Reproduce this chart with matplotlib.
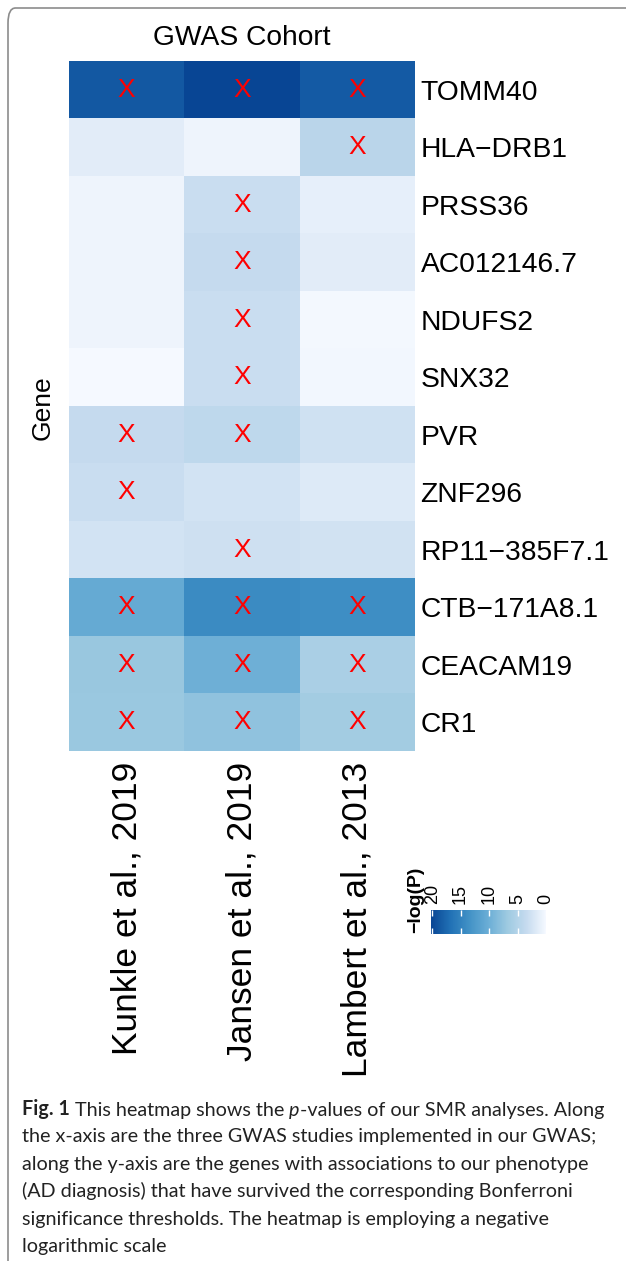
import numpy as np
import matplotlib
matplotlib.use("Agg")
import matplotlib.pyplot as plt
from matplotlib.colors import LinearSegmentedColormap
from matplotlib.patches import FancyBboxPatch

# data: -log(P) per gene (rows) and GWAS cohort (columns)
genes = ["TOMM40", "HLA\u2212DRB1", "PRSS36", "AC012146.7", "NDUFS2", "SNX32",
         "PVR", "ZNF296", "RP11\u2212385F7.1", "CTB\u2212171A8.1", "CEACAM19", "CR1"]
cohorts = ["Kunkle et al., 2019", "Jansen et al., 2019", "Lambert et al., 2013"]

kunkle = [18.7, 1.4, 0.5, 0.5, 0.5, 0.0, 3.4, 3.1, 2.5, 10.5, 7.1, 7.0]
jansen = [20.2, 0.5, 3.1, 3.4, 3.1, 3.1, 4.0, 2.5, 2.8, 14.1, 9.9, 7.6]
lambert = [18.5, 4.4, 1.1, 1.4, 0.1, 0.2, 2.7, 1.7, 2.6, 13.8, 5.7, 6.3]

# significant after Bonferroni (marked with X)
sig_kunkle = [1, 0, 0, 0, 0, 0, 1, 1, 0, 1, 1, 1]
sig_jansen = [1, 0, 1, 1, 1, 1, 1, 0, 1, 1, 1, 1]
sig_lambert = [1, 1, 0, 0, 0, 0, 0, 0, 0, 1, 1, 1]

cbar_ticks = [0, 5, 10, 15, 20]

caption_first = [("Fig. 1", "normal", "bold"),
                 (" This heatmap shows the ", "normal", "normal"),
                 ("p", "italic", "normal"),
                 ("-values of our SMR analyses. Along", "normal", "normal")]
caption_rest = ["the x-axis are the three GWAS studies implemented in our GWAS;",
                "along the y-axis are the genes with associations to our phenotype",
                "(AD diagnosis) that have survived the corresponding Bonferroni",
                "significance thresholds. The heatmap is employing a negative",
                "logarithmic scale"]

vals = np.column_stack([kunkle, jansen, lambert])
sig = np.column_stack([sig_kunkle, sig_jansen, sig_lambert])

cmap = LinearSegmentedColormap.from_list(
    "blues", ["#F5F9FF", "#C6DBEF", "#9ECAE1", "#6BAED6", "#4292C6", "#2171B5", "#084594"])

W, H = 626, 1261
fig = plt.figure(figsize=(W / 100, H / 100), dpi=100)
plt.rcParams["font.family"] = ["Liberation Sans", "DejaVu Sans"]

# frame around the figure panel
frame = FancyBboxPatch((8 / W, -0.05), 1.2, 1 - 8 / H + 0.05,
                       boxstyle="round,pad=0,rounding_size=0.012",
                       transform=fig.transFigure, fill=False,
                       edgecolor="#8c8c8c", lw=1.2)
fig.patches.append(frame)

ax = fig.add_axes([69 / W, 1 - 751 / H, 346 / W, 690 / H])
im = ax.imshow(vals, cmap=cmap, vmin=vals.min(), vmax=vals.max(),
               aspect="auto", interpolation="nearest")
for i in range(len(genes)):
    for j in range(len(cohorts)):
        if sig[i, j]:
            ax.text(j, i, "X", color="red", ha="center", va="center", fontsize=19)

ax.set_xticks(range(len(cohorts)))
ax.set_xticklabels(cohorts, rotation=90, fontsize=25.5, va="top")
ax.set_yticks(range(len(genes)))
ax.set_yticklabels(genes, fontsize=20.3)
ax.yaxis.tick_right()
ax.tick_params(axis="both", length=0)
ax.tick_params(axis="x", pad=8)
ax.tick_params(axis="y", pad=4)
for s in ax.spines.values():
    s.set_visible(False)

fig.text(242 / W, 1 - 38 / H, "GWAS Cohort", ha="center", va="center", fontsize=20.3)
fig.text(43 / W, 1 - 408 / H, "Gene", ha="center", va="center", rotation=90, fontsize=19)

# colour bar (reversed, horizontal)
cax = fig.add_axes([431 / W, 1 - 934 / H, 115 / W, 24 / H])
cb = fig.colorbar(im, cax=cax, orientation="horizontal")
cb.outline.set_visible(False)
cax.invert_xaxis()
cax.xaxis.set_ticks_position("both")
cax.set_xticks(cbar_ticks)
cax.set_xticklabels([str(v) for v in cbar_ticks], fontsize=13, rotation=90)
cax.tick_params(axis="x", direction="in", color="white", length=4, width=1,
                labeltop=True, labelbottom=False, pad=4.5)
fig.text(416 / W, 1 - 933 / H, "\u2212log(P)", rotation=90, ha="center", va="bottom",
         fontsize=14, fontweight="bold")

# caption
cap = dict(fontsize=14.2, family="Lato", color="#222222")
x0, y0, dy = 22 / W, 1 - 1115 / H, 27.4 / H
last = None
for piece, style, weight in caption_first:
    if last is None:
        last = fig.text(x0, y0, piece, style=style, fontweight=weight,
                        va="baseline", **cap)
    else:
        # chain each piece right after the previous one
        last = ax.annotate(piece, xy=(1, 0), xycoords=last, va="bottom", ha="left",
                           style=style, fontweight=weight, annotation_clip=False, **cap)
for k, line in enumerate(caption_rest, start=1):
    fig.text(x0, y0 - k * dy, line, va="baseline", **cap)

fig.savefig("out.png", dpi=100)
